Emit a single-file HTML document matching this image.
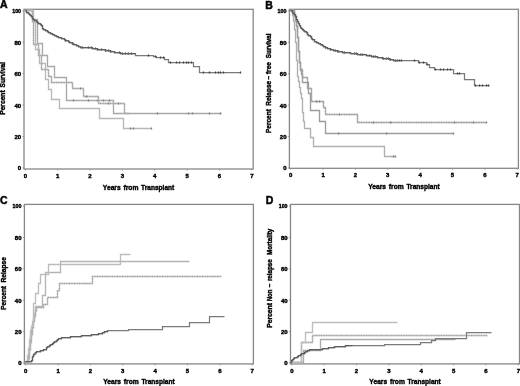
<!DOCTYPE html>
<html><head><meta charset="utf-8"><style>
html,body{margin:0;padding:0;background:#fff;}
body{width:520px;height:386px;overflow:hidden;font-family:"Liberation Sans", sans-serif;}
svg{display:block;will-change:transform;}
</style></head><body>
<svg width="520" height="386" viewBox="0 0 520 386" font-family='"Liberation Sans", sans-serif'><rect width="520" height="386" fill="#fff"/><g>
<rect x="24.00" y="9.30" width="229.20" height="159.70" fill="none" stroke="#888888" stroke-width="1.3"/>
<line x1="22.50" y1="167.90" x2="24.00" y2="167.90" stroke="#888888" stroke-width="0.8"/>
<text x="21.10" y="170.30" font-size="6.00" font-weight="bold" text-anchor="end" fill="#000" stroke="#000" stroke-width="0.40">0</text>
<line x1="22.50" y1="136.50" x2="24.00" y2="136.50" stroke="#888888" stroke-width="0.8"/>
<text x="21.10" y="138.90" font-size="6.00" font-weight="bold" text-anchor="end" fill="#000" stroke="#000" stroke-width="0.40">20</text>
<line x1="22.50" y1="105.10" x2="24.00" y2="105.10" stroke="#888888" stroke-width="0.8"/>
<text x="21.10" y="107.50" font-size="6.00" font-weight="bold" text-anchor="end" fill="#000" stroke="#000" stroke-width="0.40">40</text>
<line x1="22.50" y1="73.70" x2="24.00" y2="73.70" stroke="#888888" stroke-width="0.8"/>
<text x="21.10" y="76.10" font-size="6.00" font-weight="bold" text-anchor="end" fill="#000" stroke="#000" stroke-width="0.40">60</text>
<line x1="22.50" y1="42.30" x2="24.00" y2="42.30" stroke="#888888" stroke-width="0.8"/>
<text x="21.10" y="44.70" font-size="6.00" font-weight="bold" text-anchor="end" fill="#000" stroke="#000" stroke-width="0.40">80</text>
<line x1="22.50" y1="10.90" x2="24.00" y2="10.90" stroke="#888888" stroke-width="0.8"/>
<text x="21.10" y="13.30" font-size="6.00" font-weight="bold" text-anchor="end" fill="#000" stroke="#000" stroke-width="0.40" textLength="8.90" lengthAdjust="spacingAndGlyphs">100</text>
<line x1="25.30" y1="169.00" x2="25.30" y2="170.50" stroke="#888888" stroke-width="0.8"/>
<text x="25.30" y="178.10" font-size="6.00" font-weight="bold" text-anchor="middle" fill="#000" stroke="#000" stroke-width="0.40">0</text>
<line x1="57.66" y1="169.00" x2="57.66" y2="170.50" stroke="#888888" stroke-width="0.8"/>
<text x="57.66" y="178.10" font-size="6.00" font-weight="bold" text-anchor="middle" fill="#000" stroke="#000" stroke-width="0.40">1</text>
<line x1="90.02" y1="169.00" x2="90.02" y2="170.50" stroke="#888888" stroke-width="0.8"/>
<text x="90.02" y="178.10" font-size="6.00" font-weight="bold" text-anchor="middle" fill="#000" stroke="#000" stroke-width="0.40">2</text>
<line x1="122.38" y1="169.00" x2="122.38" y2="170.50" stroke="#888888" stroke-width="0.8"/>
<text x="122.38" y="178.10" font-size="6.00" font-weight="bold" text-anchor="middle" fill="#000" stroke="#000" stroke-width="0.40">3</text>
<line x1="154.74" y1="169.00" x2="154.74" y2="170.50" stroke="#888888" stroke-width="0.8"/>
<text x="154.74" y="178.10" font-size="6.00" font-weight="bold" text-anchor="middle" fill="#000" stroke="#000" stroke-width="0.40">4</text>
<line x1="187.10" y1="169.00" x2="187.10" y2="170.50" stroke="#888888" stroke-width="0.8"/>
<text x="187.10" y="178.10" font-size="6.00" font-weight="bold" text-anchor="middle" fill="#000" stroke="#000" stroke-width="0.40">5</text>
<line x1="219.46" y1="169.00" x2="219.46" y2="170.50" stroke="#888888" stroke-width="0.8"/>
<text x="219.46" y="178.10" font-size="6.00" font-weight="bold" text-anchor="middle" fill="#000" stroke="#000" stroke-width="0.40">6</text>
<line x1="251.82" y1="169.00" x2="251.82" y2="170.50" stroke="#888888" stroke-width="0.8"/>
<text x="251.82" y="178.10" font-size="6.00" font-weight="bold" text-anchor="middle" fill="#000" stroke="#000" stroke-width="0.40">7</text>
<text x="102.85" y="189.50" font-size="7.20" font-weight="bold" text-anchor="start" fill="#000" stroke="#000" stroke-width="0.40" textLength="17.80" lengthAdjust="spacingAndGlyphs">Years</text>
<text x="123.45" y="189.50" font-size="7.20" font-weight="bold" text-anchor="start" fill="#000" stroke="#000" stroke-width="0.40" textLength="15.00" lengthAdjust="spacingAndGlyphs">from</text>
<text x="141.05" y="189.50" font-size="7.20" font-weight="bold" text-anchor="start" fill="#000" stroke="#000" stroke-width="0.40" textLength="33.20" lengthAdjust="spacingAndGlyphs">Transplant</text>
<text x="5.40" y="87.45" font-size="6.60" font-weight="bold" text-anchor="start" fill="#000" stroke="#000" stroke-width="0.40" transform="rotate(-90 5.40 87.45)" textLength="25.50" lengthAdjust="spacingAndGlyphs">Survival</text>
<text x="5.40" y="114.75" font-size="6.60" font-weight="bold" text-anchor="start" fill="#000" stroke="#000" stroke-width="0.40" transform="rotate(-90 5.40 114.75)" textLength="24.40" lengthAdjust="spacingAndGlyphs">Percent</text>
<rect x="289.40" y="9.30" width="229.00" height="159.00" fill="none" stroke="#888888" stroke-width="1.3"/>
<line x1="287.90" y1="167.90" x2="289.40" y2="167.90" stroke="#888888" stroke-width="0.8"/>
<text x="286.50" y="170.30" font-size="6.00" font-weight="bold" text-anchor="end" fill="#000" stroke="#000" stroke-width="0.40">0</text>
<line x1="287.90" y1="136.50" x2="289.40" y2="136.50" stroke="#888888" stroke-width="0.8"/>
<text x="286.50" y="138.90" font-size="6.00" font-weight="bold" text-anchor="end" fill="#000" stroke="#000" stroke-width="0.40">20</text>
<line x1="287.90" y1="105.10" x2="289.40" y2="105.10" stroke="#888888" stroke-width="0.8"/>
<text x="286.50" y="107.50" font-size="6.00" font-weight="bold" text-anchor="end" fill="#000" stroke="#000" stroke-width="0.40">40</text>
<line x1="287.90" y1="73.70" x2="289.40" y2="73.70" stroke="#888888" stroke-width="0.8"/>
<text x="286.50" y="76.10" font-size="6.00" font-weight="bold" text-anchor="end" fill="#000" stroke="#000" stroke-width="0.40">60</text>
<line x1="287.90" y1="42.30" x2="289.40" y2="42.30" stroke="#888888" stroke-width="0.8"/>
<text x="286.50" y="44.70" font-size="6.00" font-weight="bold" text-anchor="end" fill="#000" stroke="#000" stroke-width="0.40">80</text>
<line x1="287.90" y1="10.90" x2="289.40" y2="10.90" stroke="#888888" stroke-width="0.8"/>
<text x="286.50" y="13.30" font-size="6.00" font-weight="bold" text-anchor="end" fill="#000" stroke="#000" stroke-width="0.40" textLength="8.90" lengthAdjust="spacingAndGlyphs">100</text>
<line x1="290.70" y1="168.30" x2="290.70" y2="169.80" stroke="#888888" stroke-width="0.8"/>
<text x="290.70" y="177.40" font-size="6.00" font-weight="bold" text-anchor="middle" fill="#000" stroke="#000" stroke-width="0.40">0</text>
<line x1="323.06" y1="168.30" x2="323.06" y2="169.80" stroke="#888888" stroke-width="0.8"/>
<text x="323.06" y="177.40" font-size="6.00" font-weight="bold" text-anchor="middle" fill="#000" stroke="#000" stroke-width="0.40">1</text>
<line x1="355.42" y1="168.30" x2="355.42" y2="169.80" stroke="#888888" stroke-width="0.8"/>
<text x="355.42" y="177.40" font-size="6.00" font-weight="bold" text-anchor="middle" fill="#000" stroke="#000" stroke-width="0.40">2</text>
<line x1="387.78" y1="168.30" x2="387.78" y2="169.80" stroke="#888888" stroke-width="0.8"/>
<text x="387.78" y="177.40" font-size="6.00" font-weight="bold" text-anchor="middle" fill="#000" stroke="#000" stroke-width="0.40">3</text>
<line x1="420.14" y1="168.30" x2="420.14" y2="169.80" stroke="#888888" stroke-width="0.8"/>
<text x="420.14" y="177.40" font-size="6.00" font-weight="bold" text-anchor="middle" fill="#000" stroke="#000" stroke-width="0.40">4</text>
<line x1="452.50" y1="168.30" x2="452.50" y2="169.80" stroke="#888888" stroke-width="0.8"/>
<text x="452.50" y="177.40" font-size="6.00" font-weight="bold" text-anchor="middle" fill="#000" stroke="#000" stroke-width="0.40">5</text>
<line x1="484.86" y1="168.30" x2="484.86" y2="169.80" stroke="#888888" stroke-width="0.8"/>
<text x="484.86" y="177.40" font-size="6.00" font-weight="bold" text-anchor="middle" fill="#000" stroke="#000" stroke-width="0.40">6</text>
<line x1="517.22" y1="168.30" x2="517.22" y2="169.80" stroke="#888888" stroke-width="0.8"/>
<text x="517.22" y="177.40" font-size="6.00" font-weight="bold" text-anchor="middle" fill="#000" stroke="#000" stroke-width="0.40">7</text>
<text x="368.25" y="188.80" font-size="7.20" font-weight="bold" text-anchor="start" fill="#000" stroke="#000" stroke-width="0.40" textLength="17.80" lengthAdjust="spacingAndGlyphs">Years</text>
<text x="388.85" y="188.80" font-size="7.20" font-weight="bold" text-anchor="start" fill="#000" stroke="#000" stroke-width="0.40" textLength="15.00" lengthAdjust="spacingAndGlyphs">from</text>
<text x="406.45" y="188.80" font-size="7.20" font-weight="bold" text-anchor="start" fill="#000" stroke="#000" stroke-width="0.40" textLength="33.20" lengthAdjust="spacingAndGlyphs">Transplant</text>
<text x="270.80" y="58.15" font-size="6.60" font-weight="bold" text-anchor="start" fill="#000" stroke="#000" stroke-width="0.40" transform="rotate(-90 270.80 58.15)" textLength="24.70" lengthAdjust="spacingAndGlyphs">Survival</text>
<text x="270.80" y="74.15" font-size="6.60" font-weight="bold" text-anchor="start" fill="#000" stroke="#000" stroke-width="0.40" transform="rotate(-90 270.80 74.15)" textLength="12.20" lengthAdjust="spacingAndGlyphs">free</text>
<text x="270.80" y="79.55" font-size="6.60" font-weight="bold" text-anchor="start" fill="#000" stroke="#000" stroke-width="0.40" transform="rotate(-90 270.80 79.55)" textLength="3.90" lengthAdjust="spacingAndGlyphs">−</text>
<text x="270.80" y="105.65" font-size="6.60" font-weight="bold" text-anchor="start" fill="#000" stroke="#000" stroke-width="0.40" transform="rotate(-90 270.80 105.65)" textLength="24.70" lengthAdjust="spacingAndGlyphs">Relapse</text>
<text x="270.80" y="132.95" font-size="6.60" font-weight="bold" text-anchor="start" fill="#000" stroke="#000" stroke-width="0.40" transform="rotate(-90 270.80 132.95)" textLength="23.80" lengthAdjust="spacingAndGlyphs">Percent</text>
<rect x="24.40" y="204.40" width="229.00" height="159.50" fill="none" stroke="#888888" stroke-width="1.3"/>
<line x1="22.90" y1="363.00" x2="24.40" y2="363.00" stroke="#888888" stroke-width="0.8"/>
<text x="21.50" y="365.40" font-size="6.00" font-weight="bold" text-anchor="end" fill="#000" stroke="#000" stroke-width="0.40">0</text>
<line x1="22.90" y1="331.60" x2="24.40" y2="331.60" stroke="#888888" stroke-width="0.8"/>
<text x="21.50" y="334.00" font-size="6.00" font-weight="bold" text-anchor="end" fill="#000" stroke="#000" stroke-width="0.40">20</text>
<line x1="22.90" y1="300.20" x2="24.40" y2="300.20" stroke="#888888" stroke-width="0.8"/>
<text x="21.50" y="302.60" font-size="6.00" font-weight="bold" text-anchor="end" fill="#000" stroke="#000" stroke-width="0.40">40</text>
<line x1="22.90" y1="268.80" x2="24.40" y2="268.80" stroke="#888888" stroke-width="0.8"/>
<text x="21.50" y="271.20" font-size="6.00" font-weight="bold" text-anchor="end" fill="#000" stroke="#000" stroke-width="0.40">60</text>
<line x1="22.90" y1="237.40" x2="24.40" y2="237.40" stroke="#888888" stroke-width="0.8"/>
<text x="21.50" y="239.80" font-size="6.00" font-weight="bold" text-anchor="end" fill="#000" stroke="#000" stroke-width="0.40">80</text>
<line x1="22.90" y1="206.00" x2="24.40" y2="206.00" stroke="#888888" stroke-width="0.8"/>
<text x="21.50" y="208.40" font-size="6.00" font-weight="bold" text-anchor="end" fill="#000" stroke="#000" stroke-width="0.40" textLength="8.90" lengthAdjust="spacingAndGlyphs">100</text>
<line x1="25.70" y1="363.90" x2="25.70" y2="365.40" stroke="#888888" stroke-width="0.8"/>
<text x="25.70" y="373.00" font-size="6.00" font-weight="bold" text-anchor="middle" fill="#000" stroke="#000" stroke-width="0.40">0</text>
<line x1="58.06" y1="363.90" x2="58.06" y2="365.40" stroke="#888888" stroke-width="0.8"/>
<text x="58.06" y="373.00" font-size="6.00" font-weight="bold" text-anchor="middle" fill="#000" stroke="#000" stroke-width="0.40">1</text>
<line x1="90.42" y1="363.90" x2="90.42" y2="365.40" stroke="#888888" stroke-width="0.8"/>
<text x="90.42" y="373.00" font-size="6.00" font-weight="bold" text-anchor="middle" fill="#000" stroke="#000" stroke-width="0.40">2</text>
<line x1="122.78" y1="363.90" x2="122.78" y2="365.40" stroke="#888888" stroke-width="0.8"/>
<text x="122.78" y="373.00" font-size="6.00" font-weight="bold" text-anchor="middle" fill="#000" stroke="#000" stroke-width="0.40">3</text>
<line x1="155.14" y1="363.90" x2="155.14" y2="365.40" stroke="#888888" stroke-width="0.8"/>
<text x="155.14" y="373.00" font-size="6.00" font-weight="bold" text-anchor="middle" fill="#000" stroke="#000" stroke-width="0.40">4</text>
<line x1="187.50" y1="363.90" x2="187.50" y2="365.40" stroke="#888888" stroke-width="0.8"/>
<text x="187.50" y="373.00" font-size="6.00" font-weight="bold" text-anchor="middle" fill="#000" stroke="#000" stroke-width="0.40">5</text>
<line x1="219.86" y1="363.90" x2="219.86" y2="365.40" stroke="#888888" stroke-width="0.8"/>
<text x="219.86" y="373.00" font-size="6.00" font-weight="bold" text-anchor="middle" fill="#000" stroke="#000" stroke-width="0.40">6</text>
<line x1="252.22" y1="363.90" x2="252.22" y2="365.40" stroke="#888888" stroke-width="0.8"/>
<text x="252.22" y="373.00" font-size="6.00" font-weight="bold" text-anchor="middle" fill="#000" stroke="#000" stroke-width="0.40">7</text>
<text x="103.25" y="384.40" font-size="7.20" font-weight="bold" text-anchor="start" fill="#000" stroke="#000" stroke-width="0.40" textLength="17.80" lengthAdjust="spacingAndGlyphs">Years</text>
<text x="123.85" y="384.40" font-size="7.20" font-weight="bold" text-anchor="start" fill="#000" stroke="#000" stroke-width="0.40" textLength="15.00" lengthAdjust="spacingAndGlyphs">from</text>
<text x="141.45" y="384.40" font-size="7.20" font-weight="bold" text-anchor="start" fill="#000" stroke="#000" stroke-width="0.40" textLength="33.20" lengthAdjust="spacingAndGlyphs">Transplant</text>
<text x="5.80" y="282.55" font-size="6.60" font-weight="bold" text-anchor="start" fill="#000" stroke="#000" stroke-width="0.40" transform="rotate(-90 5.80 282.55)" textLength="25.50" lengthAdjust="spacingAndGlyphs">Relapse</text>
<text x="5.80" y="309.75" font-size="6.60" font-weight="bold" text-anchor="start" fill="#000" stroke="#000" stroke-width="0.40" transform="rotate(-90 5.80 309.75)" textLength="23.80" lengthAdjust="spacingAndGlyphs">Percent</text>
<rect x="290.50" y="204.40" width="229.00" height="159.50" fill="none" stroke="#888888" stroke-width="1.3"/>
<line x1="289.00" y1="363.00" x2="290.50" y2="363.00" stroke="#888888" stroke-width="0.8"/>
<text x="287.60" y="365.40" font-size="6.00" font-weight="bold" text-anchor="end" fill="#000" stroke="#000" stroke-width="0.40">0</text>
<line x1="289.00" y1="331.60" x2="290.50" y2="331.60" stroke="#888888" stroke-width="0.8"/>
<text x="287.60" y="334.00" font-size="6.00" font-weight="bold" text-anchor="end" fill="#000" stroke="#000" stroke-width="0.40">20</text>
<line x1="289.00" y1="300.20" x2="290.50" y2="300.20" stroke="#888888" stroke-width="0.8"/>
<text x="287.60" y="302.60" font-size="6.00" font-weight="bold" text-anchor="end" fill="#000" stroke="#000" stroke-width="0.40">40</text>
<line x1="289.00" y1="268.80" x2="290.50" y2="268.80" stroke="#888888" stroke-width="0.8"/>
<text x="287.60" y="271.20" font-size="6.00" font-weight="bold" text-anchor="end" fill="#000" stroke="#000" stroke-width="0.40">60</text>
<line x1="289.00" y1="237.40" x2="290.50" y2="237.40" stroke="#888888" stroke-width="0.8"/>
<text x="287.60" y="239.80" font-size="6.00" font-weight="bold" text-anchor="end" fill="#000" stroke="#000" stroke-width="0.40">80</text>
<line x1="289.00" y1="206.00" x2="290.50" y2="206.00" stroke="#888888" stroke-width="0.8"/>
<text x="287.60" y="208.40" font-size="6.00" font-weight="bold" text-anchor="end" fill="#000" stroke="#000" stroke-width="0.40" textLength="8.90" lengthAdjust="spacingAndGlyphs">100</text>
<line x1="291.80" y1="363.90" x2="291.80" y2="365.40" stroke="#888888" stroke-width="0.8"/>
<text x="291.80" y="373.00" font-size="6.00" font-weight="bold" text-anchor="middle" fill="#000" stroke="#000" stroke-width="0.40">0</text>
<line x1="324.16" y1="363.90" x2="324.16" y2="365.40" stroke="#888888" stroke-width="0.8"/>
<text x="324.16" y="373.00" font-size="6.00" font-weight="bold" text-anchor="middle" fill="#000" stroke="#000" stroke-width="0.40">1</text>
<line x1="356.52" y1="363.90" x2="356.52" y2="365.40" stroke="#888888" stroke-width="0.8"/>
<text x="356.52" y="373.00" font-size="6.00" font-weight="bold" text-anchor="middle" fill="#000" stroke="#000" stroke-width="0.40">2</text>
<line x1="388.88" y1="363.90" x2="388.88" y2="365.40" stroke="#888888" stroke-width="0.8"/>
<text x="388.88" y="373.00" font-size="6.00" font-weight="bold" text-anchor="middle" fill="#000" stroke="#000" stroke-width="0.40">3</text>
<line x1="421.24" y1="363.90" x2="421.24" y2="365.40" stroke="#888888" stroke-width="0.8"/>
<text x="421.24" y="373.00" font-size="6.00" font-weight="bold" text-anchor="middle" fill="#000" stroke="#000" stroke-width="0.40">4</text>
<line x1="453.60" y1="363.90" x2="453.60" y2="365.40" stroke="#888888" stroke-width="0.8"/>
<text x="453.60" y="373.00" font-size="6.00" font-weight="bold" text-anchor="middle" fill="#000" stroke="#000" stroke-width="0.40">5</text>
<line x1="485.96" y1="363.90" x2="485.96" y2="365.40" stroke="#888888" stroke-width="0.8"/>
<text x="485.96" y="373.00" font-size="6.00" font-weight="bold" text-anchor="middle" fill="#000" stroke="#000" stroke-width="0.40">6</text>
<line x1="518.32" y1="363.90" x2="518.32" y2="365.40" stroke="#888888" stroke-width="0.8"/>
<text x="518.32" y="373.00" font-size="6.00" font-weight="bold" text-anchor="middle" fill="#000" stroke="#000" stroke-width="0.40">7</text>
<text x="369.35" y="384.40" font-size="7.20" font-weight="bold" text-anchor="start" fill="#000" stroke="#000" stroke-width="0.40" textLength="17.80" lengthAdjust="spacingAndGlyphs">Years</text>
<text x="389.95" y="384.40" font-size="7.20" font-weight="bold" text-anchor="start" fill="#000" stroke="#000" stroke-width="0.40" textLength="15.00" lengthAdjust="spacingAndGlyphs">from</text>
<text x="407.55" y="384.40" font-size="7.20" font-weight="bold" text-anchor="start" fill="#000" stroke="#000" stroke-width="0.40" textLength="33.20" lengthAdjust="spacingAndGlyphs">Transplant</text>
<text x="271.90" y="254.95" font-size="6.60" font-weight="bold" text-anchor="start" fill="#000" stroke="#000" stroke-width="0.40" transform="rotate(-90 271.90 254.95)" textLength="26.20" lengthAdjust="spacingAndGlyphs">Mortality</text>
<text x="271.90" y="281.05" font-size="6.60" font-weight="bold" text-anchor="start" fill="#000" stroke="#000" stroke-width="0.40" transform="rotate(-90 271.90 281.05)" textLength="21.80" lengthAdjust="spacingAndGlyphs">relapse</text>
<text x="271.90" y="287.15" font-size="6.60" font-weight="bold" text-anchor="start" fill="#000" stroke="#000" stroke-width="0.40" transform="rotate(-90 271.90 287.15)" textLength="3.90" lengthAdjust="spacingAndGlyphs">−</text>
<text x="271.90" y="301.25" font-size="6.60" font-weight="bold" text-anchor="start" fill="#000" stroke="#000" stroke-width="0.40" transform="rotate(-90 271.90 301.25)" textLength="11.80" lengthAdjust="spacingAndGlyphs">Non</text>
<text x="271.90" y="327.75" font-size="6.60" font-weight="bold" text-anchor="start" fill="#000" stroke="#000" stroke-width="0.40" transform="rotate(-90 271.90 327.75)" textLength="24.70" lengthAdjust="spacingAndGlyphs">Percent</text>
<text x="0.00" y="8.00" font-size="10.50" font-weight="bold" text-anchor="start" fill="#000" stroke="#000" stroke-width="0.45">A</text>
<text x="265.30" y="8.60" font-size="10.50" font-weight="bold" text-anchor="start" fill="#000" stroke="#000" stroke-width="0.45">B</text>
<text x="0.00" y="204.20" font-size="10.50" font-weight="bold" text-anchor="start" fill="#000" stroke="#000" stroke-width="0.45">C</text>
<text x="265.80" y="203.50" font-size="10.50" font-weight="bold" text-anchor="start" fill="#000" stroke="#000" stroke-width="0.45">D</text>
<path d="M25.5 10.5 H32.5 V19.5 H37.5 V43.5 H42.5 V55.5 H47.5 V66.5 H54.5 V77.5 H66.5 V100.5 H113.5 V113.5 H221.5" fill="none" stroke="#a8a8a8" stroke-width="1.35"/>
<line x1="73.5" y1="99.50" x2="73.5" y2="101.50" stroke="#808080" stroke-width="1.30"/>
<line x1="88.5" y1="99.50" x2="88.5" y2="101.50" stroke="#808080" stroke-width="1.30"/>
<line x1="97.5" y1="99.50" x2="97.5" y2="101.50" stroke="#808080" stroke-width="1.30"/>
<line x1="103.5" y1="99.50" x2="103.5" y2="101.50" stroke="#808080" stroke-width="1.30"/>
<line x1="109.5" y1="99.50" x2="109.5" y2="101.50" stroke="#808080" stroke-width="1.30"/>
<line x1="157.5" y1="112.50" x2="157.5" y2="114.50" stroke="#808080" stroke-width="1.30"/>
<line x1="188.5" y1="112.50" x2="188.5" y2="114.50" stroke="#808080" stroke-width="1.30"/>
<line x1="192.5" y1="112.50" x2="192.5" y2="114.50" stroke="#808080" stroke-width="1.30"/>
<line x1="209.5" y1="112.50" x2="209.5" y2="114.50" stroke="#808080" stroke-width="1.30"/>
<line x1="220.5" y1="112.50" x2="220.5" y2="114.50" stroke="#808080" stroke-width="1.30"/>
<path d="M25.5 10.5 H32.5 V21.5 H33.5 V44.5 H38.5 V55.5 H41.5 V69.5 H48.5 V76.5 H51.5 V82.5 H72.5 V88.5 H83.5 V96.5 H98.5 V103.5 H124.5 V113.5 H128.5" fill="none" stroke="#b8b8b8" stroke-width="1.35"/>
<path d="M25.5 10.5 H32.5 V21.5 H33.5 V44.5 H38.5 V55.5 H41.5 V69.5 H48.5 V76.5 H51.5 V82.5 H72.5 V88.5 H83.5 V96.5 H98.5 V103.5 H124.5 V113.5 H128.5" fill="none" stroke="#a0a0a0" stroke-width="1.35" stroke-dasharray="1 1.5"/>
<line x1="80.5" y1="87.50" x2="80.5" y2="89.50" stroke="#808080" stroke-width="1.30"/>
<line x1="86.5" y1="95.50" x2="86.5" y2="97.50" stroke="#808080" stroke-width="1.30"/>
<line x1="108.5" y1="102.50" x2="108.5" y2="104.50" stroke="#808080" stroke-width="1.30"/>
<line x1="118.5" y1="102.50" x2="118.5" y2="104.50" stroke="#808080" stroke-width="1.30"/>
<path d="M25.5 10.5 H33.5 V22.5 H35.5 V49.5 H39.5 V63.5 H45.5 V79.5 H48.5 V89.5 H51.5 V99.5 H59.5 V108.5 H99.5 V118.5 H123.5 V128.5 H151.5" fill="none" stroke="#b8b8b8" stroke-width="1.35"/>
<line x1="130.5" y1="127.50" x2="130.5" y2="129.50" stroke="#808080" stroke-width="1.30"/>
<line x1="133.5" y1="127.50" x2="133.5" y2="129.50" stroke="#808080" stroke-width="1.30"/>
<line x1="151.5" y1="127.50" x2="151.5" y2="129.50" stroke="#808080" stroke-width="1.30"/>
<path d="M25.5 10.5 H26.5 V12.5 H28.5 V13.5 H29.5 V14.5 H30.5 V15.5 H31.5 V16.5 H32.5 V18.5 H33.5 V19.5 H34.5 V20.5 H36.5 V21.5 H37.5 V22.5 H38.5 V23.5 H40.5 V24.5 H41.5 V24.5 H41.5 V25.5 H42.5 V27.5 H42.5 V28.5 H43.5 V29.5 H44.5 V29.5 H45.5 V30.5 H47.5 V31.5 H48.5 V32.5 H49.5 V32.5 H50.5 V33.5 H52.5 V34.5 H53.5 V34.5 H54.5 V35.5 H56.5 V36.5 H57.5 V36.5 H58.5 V37.5 H60.5 V37.5 H61.5 V38.5 H63.5 V38.5 H64.5 V39.5 H65.5 V40.5 H67.5 V40.5 H68.5 V41.5 H69.5 V42.5 H71.5 V42.5 H72.5 V43.5 H73.5 V44.5 H74.5 V44.5 H76.5 V45.5 H77.5 V45.5 H78.5 V46.5 H79.5 V46.5 H80.5 V47.5 H81.5 V47.5 H82.5 V47.5 H84.5 V47.5 H85.5 V47.5 H86.5 V47.5 H87.5 V47.5 H88.5 V47.5 H90.5 V47.5 H91.5 V47.5 H92.5 V48.5 H93.5 V48.5 H94.5 V48.5 H96.5 V48.5 H97.5 V49.5 H98.5 V49.5 H100.5 V49.5 H101.5 V49.5 H102.5 V49.5 H103.5 V49.5 H105.5 V50.5 H106.5 V50.5 H107.5 V50.5 H108.5 V50.5 H110.5 V51.5 H111.5 V51.5 H112.5 V51.5 H113.5 V51.5 H114.5 V52.5 H116.5 V52.5 H117.5 V52.5 H118.5 V52.5 H120.5 V53.5 H121.5 V53.5 H122.5 V53.5 H123.5 V53.5 H125.5 V53.5 H126.5 V53.5 H127.5 V53.5 H128.5 V53.5 H130.5 V53.5 H131.5 V53.5 H132.5 V53.5 H133.5 V53.5 H135.5 V53.5 V55.5 H153.5 V56.5 H156.5 V57.5 H164.5 V59.5 H168.5 V62.5 H193.5 V66.5 H199.5 V72.5 H240.5" fill="none" stroke="#7a7a7a" stroke-width="1.25"/>
<line x1="65.5" y1="39.50" x2="65.5" y2="41.50" stroke="#404040" stroke-width="1.30"/>
<line x1="72.5" y1="42.50" x2="72.5" y2="44.50" stroke="#404040" stroke-width="1.30"/>
<line x1="82.5" y1="46.50" x2="82.5" y2="48.50" stroke="#404040" stroke-width="1.30"/>
<line x1="88.5" y1="46.50" x2="88.5" y2="48.50" stroke="#404040" stroke-width="1.30"/>
<line x1="91.5" y1="46.50" x2="91.5" y2="48.50" stroke="#404040" stroke-width="1.30"/>
<line x1="95.5" y1="47.50" x2="95.5" y2="49.50" stroke="#404040" stroke-width="1.30"/>
<line x1="97.5" y1="48.50" x2="97.5" y2="50.50" stroke="#404040" stroke-width="1.30"/>
<line x1="101.5" y1="48.50" x2="101.5" y2="50.50" stroke="#404040" stroke-width="1.30"/>
<line x1="105.5" y1="49.50" x2="105.5" y2="51.50" stroke="#404040" stroke-width="1.30"/>
<line x1="108.5" y1="49.50" x2="108.5" y2="51.50" stroke="#404040" stroke-width="1.30"/>
<line x1="110.5" y1="50.50" x2="110.5" y2="52.50" stroke="#404040" stroke-width="1.30"/>
<line x1="119.5" y1="51.50" x2="119.5" y2="53.50" stroke="#404040" stroke-width="1.30"/>
<line x1="122.5" y1="52.50" x2="122.5" y2="54.50" stroke="#404040" stroke-width="1.30"/>
<line x1="125.5" y1="52.50" x2="125.5" y2="54.50" stroke="#404040" stroke-width="1.30"/>
<line x1="128.5" y1="52.50" x2="128.5" y2="54.50" stroke="#404040" stroke-width="1.30"/>
<line x1="131.5" y1="52.50" x2="131.5" y2="54.50" stroke="#404040" stroke-width="1.30"/>
<line x1="148.5" y1="54.50" x2="148.5" y2="56.50" stroke="#404040" stroke-width="1.30"/>
<line x1="155.5" y1="55.50" x2="155.5" y2="57.50" stroke="#404040" stroke-width="1.30"/>
<line x1="160.5" y1="56.50" x2="160.5" y2="58.50" stroke="#404040" stroke-width="1.30"/>
<line x1="163.5" y1="56.50" x2="163.5" y2="58.50" stroke="#404040" stroke-width="1.30"/>
<line x1="170.5" y1="61.50" x2="170.5" y2="63.50" stroke="#404040" stroke-width="1.30"/>
<line x1="176.5" y1="61.50" x2="176.5" y2="63.50" stroke="#404040" stroke-width="1.30"/>
<line x1="179.5" y1="61.50" x2="179.5" y2="63.50" stroke="#404040" stroke-width="1.30"/>
<line x1="183.5" y1="61.50" x2="183.5" y2="63.50" stroke="#404040" stroke-width="1.30"/>
<line x1="186.5" y1="61.50" x2="186.5" y2="63.50" stroke="#404040" stroke-width="1.30"/>
<line x1="188.5" y1="61.50" x2="188.5" y2="63.50" stroke="#404040" stroke-width="1.30"/>
<line x1="191.5" y1="61.50" x2="191.5" y2="63.50" stroke="#404040" stroke-width="1.30"/>
<line x1="203.5" y1="71.50" x2="203.5" y2="73.50" stroke="#404040" stroke-width="1.30"/>
<line x1="209.5" y1="71.50" x2="209.5" y2="73.50" stroke="#404040" stroke-width="1.30"/>
<line x1="215.5" y1="71.50" x2="215.5" y2="73.50" stroke="#404040" stroke-width="1.30"/>
<line x1="218.5" y1="71.50" x2="218.5" y2="73.50" stroke="#404040" stroke-width="1.30"/>
<line x1="220.5" y1="71.50" x2="220.5" y2="73.50" stroke="#404040" stroke-width="1.30"/>
<line x1="223.5" y1="71.50" x2="223.5" y2="73.50" stroke="#404040" stroke-width="1.30"/>
<line x1="240.5" y1="71.50" x2="240.5" y2="73.50" stroke="#404040" stroke-width="1.30"/>
<path d="M25.5 10.5 H26.5 V12.5 H28.5 V13.5 H29.5 V14.5 H30.5 V15.5 H31.5 V16.5 H32.5 V18.5 H33.5 V19.5 H34.5 V20.5 H36.5 V21.5 H37.5 V22.5 H38.5 V23.5 H40.5 V24.5 H41.5 V24.5 H41.5 V25.5 H42.5 V27.5 H42.5 V28.5 H43.5 V29.5 H44.5 V29.5 H45.5 V30.5 H47.5 V31.5 H48.5 V32.5 H49.5 V32.5 H50.5 V33.5 H52.5 V34.5 H53.5 V34.5 H54.5 V35.5 H56.5 V36.5 H57.5 V36.5 H58.5 V37.5 H60.5 V37.5 H61.5 V38.5 H63.5 V38.5 H64.5 V39.5 H65.5 V40.5 H67.5 V40.5 H68.5 V41.5 H69.5 V42.5 H71.5 V42.5 H72.5 V43.5 H73.5 V44.5 H74.5 V44.5 H76.5 V45.5 H77.5 V45.5 H78.5 V46.5 H79.5 V46.5 H80.5 V47.5 H81.5 V47.5 H82.5 V47.5 H84.5 V47.5 H85.5 V47.5 H86.5 V47.5 H87.5 V47.5 H88.5 V47.5 H90.5 V47.5 H91.5 V47.5 H92.5 V48.5 H93.5 V48.5 H94.5 V48.5 H96.5 V48.5 H97.5 V49.5 H98.5 V49.5 H100.5 V49.5 H101.5 V49.5 H102.5 V49.5 H103.5 V49.5 H105.5 V50.5 H106.5 V50.5 H107.5 V50.5 H108.5 V50.5 H110.5 V51.5 H111.5 V51.5 H112.5 V51.5 H113.5 V51.5 H114.5 V52.5 H116.5 V52.5 H117.5 V52.5 H118.5 V52.5 H120.5 V53.5 H121.5 V53.5 H122.5 V53.5 H123.5 V53.5 H125.5 V53.5 H126.5 V53.5 H127.5 V53.5 H128.5 V53.5 H130.5 V53.5 H131.5 V53.5 H132.5 V53.5 H133.5 V53.5 H135.5 V53.5" fill="none" stroke="#5e5e5e" stroke-width="1.25"/>
<path d="M290.5 10.5 H292.5 V10.5 H294.5 V11.5 H294.5 V12.5 H294.5 V14.5 H294.5 V15.5 H295.5 V17.5 H295.5 V18.5 H295.5 V20.5 H296.5 V21.5 H296.5 V23.5 H296.5 V25.5 H296.5 V26.5 H297.5 V28.5 H297.5 V29.5 H297.5 V31.5 H297.5 V32.5 H297.5 V34.5 H297.5 V35.5 H297.5 V37.5 H298.5 V39.5 H298.5 V40.5 H298.5 V42.5 H298.5 V43.5 H298.5 V45.5 H298.5 V46.5 H298.5 V48.5 H298.5 V50.5 H298.5 V51.5 H299.5 V53.5 H299.5 V54.5 H299.5 V56.5 H299.5 V57.5 H299.5 V59.5 H299.5 V60.5 H299.5 V62.5 H300.5 V64.5 H300.5 V65.5 H300.5 V67.5 V69.5 H302.5 V77.5 H307.5 V88.5 H311.5 V101.5 H323.5 V107.5 H325.5 V114.5 H357.5 V122.5 H486.5" fill="none" stroke="#b2b2b2" stroke-width="1.35"/>
<path d="M290.5 10.5 H292.5 V10.5 H294.5 V11.5 H294.5 V12.5 H294.5 V14.5 H294.5 V15.5 H295.5 V17.5 H295.5 V18.5 H295.5 V20.5 H296.5 V21.5 H296.5 V23.5 H296.5 V25.5 H296.5 V26.5 H297.5 V28.5 H297.5 V29.5 H297.5 V31.5 H297.5 V32.5 H297.5 V34.5 H297.5 V35.5 H297.5 V37.5 H298.5 V39.5 H298.5 V40.5 H298.5 V42.5 H298.5 V43.5 H298.5 V45.5 H298.5 V46.5 H298.5 V48.5 H298.5 V50.5 H298.5 V51.5 H299.5 V53.5 H299.5 V54.5 H299.5 V56.5 H299.5 V57.5 H299.5 V59.5 H299.5 V60.5 H299.5 V62.5 H300.5 V64.5 H300.5 V65.5 H300.5 V67.5 V69.5 H302.5 V77.5 H307.5 V88.5 H311.5 V101.5 H323.5 V107.5 H325.5 V114.5 H357.5 V122.5 H486.5" fill="none" stroke="#9a9a9a" stroke-width="1.35" stroke-dasharray="1 1.5"/>
<line x1="316.5" y1="100.50" x2="316.5" y2="102.50" stroke="#808080" stroke-width="1.30"/>
<line x1="319.5" y1="100.50" x2="319.5" y2="102.50" stroke="#808080" stroke-width="1.30"/>
<line x1="339.5" y1="113.50" x2="339.5" y2="115.50" stroke="#808080" stroke-width="1.30"/>
<line x1="373.5" y1="121.50" x2="373.5" y2="123.50" stroke="#808080" stroke-width="1.30"/>
<line x1="390.5" y1="121.50" x2="390.5" y2="123.50" stroke="#808080" stroke-width="1.30"/>
<line x1="454.5" y1="121.50" x2="454.5" y2="123.50" stroke="#808080" stroke-width="1.30"/>
<line x1="473.5" y1="121.50" x2="473.5" y2="123.50" stroke="#808080" stroke-width="1.30"/>
<line x1="486.5" y1="121.50" x2="486.5" y2="123.50" stroke="#808080" stroke-width="1.30"/>
<path d="M290.5 10.5 H292.5 V10.5 H294.5 V11.5 H294.5 V12.5 H294.5 V14.5 H294.5 V15.5 H295.5 V17.5 H295.5 V18.5 H295.5 V20.5 H296.5 V21.5 H296.5 V23.5 H296.5 V25.5 H296.5 V26.5 H297.5 V28.5 H297.5 V29.5 H297.5 V31.5 H297.5 V32.5 H297.5 V34.5 H297.5 V35.5 H297.5 V37.5 H298.5 V39.5 H298.5 V40.5 H298.5 V42.5 H298.5 V43.5 H298.5 V45.5 H298.5 V46.5 H298.5 V48.5 H298.5 V50.5 H298.5 V51.5 H299.5 V53.5 H299.5 V54.5 H299.5 V56.5 H299.5 V57.5 H299.5 V59.5 H299.5 V60.5 H299.5 V62.5 H300.5 V64.5 H300.5 V65.5 H300.5 V67.5 H300.5 V68.5 H300.5 V70.5 H301.5 V71.5 H301.5 V73.5 H301.5 V74.5 H302.5 V76.5 H302.5 V77.5 H302.5 V79.5 H302.5 V80.5 H302.5 V82.5 H308.5 V93.5 H310.5 V110.5 H319.5 V121.5 H325.5 V133.5 H453.5" fill="none" stroke="#9c9c9c" stroke-width="1.35"/>
<line x1="338.5" y1="132.50" x2="338.5" y2="134.50" stroke="#808080" stroke-width="1.30"/>
<line x1="386.5" y1="132.50" x2="386.5" y2="134.50" stroke="#808080" stroke-width="1.30"/>
<line x1="453.5" y1="132.50" x2="453.5" y2="134.50" stroke="#808080" stroke-width="1.30"/>
<path d="M290.5 10.5 H292.5 V11.5 H292.5 V12.5 H292.5 V14.5 H292.5 V15.5 H293.5 V17.5 H293.5 V18.5 H293.5 V20.5 H293.5 V21.5 H294.5 V23.5 H294.5 V25.5 H294.5 V26.5 H294.5 V28.5 H294.5 V29.5 H295.5 V31.5 H295.5 V32.5 H295.5 V34.5 H295.5 V35.5 H295.5 V37.5 H295.5 V39.5 H295.5 V40.5 H295.5 V42.5 H296.5 V43.5 H296.5 V45.5 H296.5 V46.5 H296.5 V48.5 H296.5 V50.5 H296.5 V51.5 H296.5 V53.5 H296.5 V54.5 H296.5 V56.5 H296.5 V57.5 H296.5 V59.5 H296.5 V60.5 H297.5 V62.5 H297.5 V64.5 H297.5 V65.5 H297.5 V67.5 H297.5 V68.5 H297.5 V70.5 H297.5 V71.5 H297.5 V73.5 H297.5 V74.5 H297.5 V76.5 H298.5 V78.5 H298.5 V79.5 H298.5 V81.5 H299.5 V82.5 H299.5 V84.5 H299.5 V86.5 H299.5 V87.5 H300.5 V89.5 H300.5 V90.5 H300.5 V92.5 H300.5 V93.5 H301.5 V95.5 H301.5 V96.5 H301.5 V98.5 H302.5 V100.5 H302.5 V101.5 H302.5 V103.5 H302.5 V104.5 H302.5 V106.5 H302.5 V107.5 H302.5 V109.5 H302.5 V110.5 H302.5 V112.5 H303.5 V114.5 H303.5 V115.5 H303.5 V117.5 H303.5 V118.5 H303.5 V120.5 H303.5 V121.5 H304.5 V123.5 H304.5 V124.5 H304.5 V126.5 H304.5 V128.5 H310.5 V137.5 H313.5 V146.5 H384.5 V156.5 H395.5" fill="none" stroke="#b0b0b0" stroke-width="1.35"/>
<line x1="393.5" y1="155.50" x2="393.5" y2="157.50" stroke="#808080" stroke-width="1.30"/>
<line x1="395.5" y1="155.50" x2="395.5" y2="157.50" stroke="#808080" stroke-width="1.30"/>
<path d="M290.5 10.5 H292.5 V10.5 H292.5 V12.5 H293.5 V13.5 H294.5 V14.5 H295.5 V16.5 H296.5 V17.5 H296.5 V18.5 H296.5 V19.5 H297.5 V20.5 H297.5 V21.5 H298.5 V22.5 H298.5 V23.5 H299.5 V25.5 H300.5 V26.5 H300.5 V27.5 H301.5 V28.5 H302.5 V29.5 H303.5 V30.5 H304.5 V31.5 H306.5 V32.5 H307.5 V34.5 H308.5 V35.5 H310.5 V36.5 H311.5 V38.5 H312.5 V39.5 H314.5 V41.5 H315.5 V41.5 H316.5 V42.5 H317.5 V42.5 H318.5 V43.5 H319.5 V43.5 H320.5 V44.5 H322.5 V45.5 H323.5 V46.5 H325.5 V47.5 H326.5 V47.5 H327.5 V48.5 H329.5 V48.5 H330.5 V49.5 H331.5 V49.5 H332.5 V49.5 H333.5 V50.5 H334.5 V50.5 H335.5 V50.5 H337.5 V51.5 H338.5 V51.5 H339.5 V51.5 H340.5 V51.5 H341.5 V51.5 H342.5 V52.5 H343.5 V52.5 H344.5 V52.5 H346.5 V52.5 H347.5 V52.5 H348.5 V52.5 H349.5 V52.5 H350.5 V53.5 H351.5 V53.5 H352.5 V53.5 H354.5 V53.5 H355.5 V53.5 H356.5 V53.5 H357.5 V54.5 H358.5 V54.5 H360.5 V54.5 H361.5 V54.5 H362.5 V54.5 H363.5 V54.5 H364.5 V54.5 H365.5 V54.5 H366.5 V55.5 H367.5 V55.5 H368.5 V55.5 H370.5 V55.5 H371.5 V56.5 H372.5 V56.5 H373.5 V56.5 H374.5 V56.5 H375.5 V56.5 H377.5 V57.5 H378.5 V57.5 H379.5 V57.5 H380.5 V57.5 H381.5 V57.5 H382.5 V58.5 H384.5 V58.5 H385.5 V58.5 H386.5 V58.5 H387.5 V58.5 H388.5 V58.5 H389.5 V59.5 H391.5 V59.5 H392.5 V59.5 H393.5 V60.5 H395.5 V60.5 H396.5 V60.5 H397.5 V60.5 H418.5 V62.5 H426.5 V64.5 H429.5 V67.5 H434.5 V69.5 H453.5 V73.5 H464.5 V79.5 H474.5 V85.5 H489.5" fill="none" stroke="#7a7a7a" stroke-width="1.25"/>
<line x1="325.5" y1="46.50" x2="325.5" y2="48.50" stroke="#404040" stroke-width="1.30"/>
<line x1="330.5" y1="48.50" x2="330.5" y2="50.50" stroke="#404040" stroke-width="1.30"/>
<line x1="335.5" y1="49.50" x2="335.5" y2="51.50" stroke="#404040" stroke-width="1.30"/>
<line x1="338.5" y1="50.50" x2="338.5" y2="52.50" stroke="#404040" stroke-width="1.30"/>
<line x1="344.5" y1="51.50" x2="344.5" y2="53.50" stroke="#404040" stroke-width="1.30"/>
<line x1="354.5" y1="52.50" x2="354.5" y2="54.50" stroke="#404040" stroke-width="1.30"/>
<line x1="356.5" y1="52.50" x2="356.5" y2="54.50" stroke="#404040" stroke-width="1.30"/>
<line x1="360.5" y1="53.50" x2="360.5" y2="55.50" stroke="#404040" stroke-width="1.30"/>
<line x1="362.5" y1="53.50" x2="362.5" y2="55.50" stroke="#404040" stroke-width="1.30"/>
<line x1="369.5" y1="54.50" x2="369.5" y2="56.50" stroke="#404040" stroke-width="1.30"/>
<line x1="373.5" y1="55.50" x2="373.5" y2="57.50" stroke="#404040" stroke-width="1.30"/>
<line x1="375.5" y1="55.50" x2="375.5" y2="57.50" stroke="#404040" stroke-width="1.30"/>
<line x1="383.5" y1="57.50" x2="383.5" y2="59.50" stroke="#404040" stroke-width="1.30"/>
<line x1="386.5" y1="57.50" x2="386.5" y2="59.50" stroke="#404040" stroke-width="1.30"/>
<line x1="388.5" y1="57.50" x2="388.5" y2="59.50" stroke="#404040" stroke-width="1.30"/>
<line x1="390.5" y1="58.50" x2="390.5" y2="60.50" stroke="#404040" stroke-width="1.30"/>
<line x1="395.5" y1="59.50" x2="395.5" y2="61.50" stroke="#404040" stroke-width="1.30"/>
<line x1="397.5" y1="59.50" x2="397.5" y2="61.50" stroke="#404040" stroke-width="1.30"/>
<line x1="399.5" y1="59.50" x2="399.5" y2="61.50" stroke="#404040" stroke-width="1.30"/>
<line x1="401.5" y1="59.50" x2="401.5" y2="61.50" stroke="#404040" stroke-width="1.30"/>
<line x1="414.5" y1="59.50" x2="414.5" y2="61.50" stroke="#404040" stroke-width="1.30"/>
<line x1="419.5" y1="61.50" x2="419.5" y2="63.50" stroke="#404040" stroke-width="1.30"/>
<line x1="423.5" y1="61.50" x2="423.5" y2="63.50" stroke="#404040" stroke-width="1.30"/>
<line x1="427.5" y1="63.50" x2="427.5" y2="65.50" stroke="#404040" stroke-width="1.30"/>
<line x1="435.5" y1="68.50" x2="435.5" y2="70.50" stroke="#404040" stroke-width="1.30"/>
<line x1="440.5" y1="68.50" x2="440.5" y2="70.50" stroke="#404040" stroke-width="1.30"/>
<line x1="443.5" y1="68.50" x2="443.5" y2="70.50" stroke="#404040" stroke-width="1.30"/>
<line x1="447.5" y1="68.50" x2="447.5" y2="70.50" stroke="#404040" stroke-width="1.30"/>
<line x1="450.5" y1="68.50" x2="450.5" y2="70.50" stroke="#404040" stroke-width="1.30"/>
<line x1="457.5" y1="72.50" x2="457.5" y2="74.50" stroke="#404040" stroke-width="1.30"/>
<line x1="459.5" y1="72.50" x2="459.5" y2="74.50" stroke="#404040" stroke-width="1.30"/>
<line x1="475.5" y1="84.50" x2="475.5" y2="86.50" stroke="#404040" stroke-width="1.30"/>
<line x1="479.5" y1="84.50" x2="479.5" y2="86.50" stroke="#404040" stroke-width="1.30"/>
<line x1="482.5" y1="84.50" x2="482.5" y2="86.50" stroke="#404040" stroke-width="1.30"/>
<line x1="486.5" y1="84.50" x2="486.5" y2="86.50" stroke="#404040" stroke-width="1.30"/>
<line x1="488.5" y1="84.50" x2="488.5" y2="86.50" stroke="#404040" stroke-width="1.30"/>
<path d="M290.5 10.5 H292.5 V10.5 H292.5 V12.5 H293.5 V13.5 H294.5 V14.5 H295.5 V16.5 H296.5 V17.5 H296.5 V18.5 H296.5 V19.5 H297.5 V20.5 H297.5 V21.5 H298.5 V22.5 H298.5 V23.5 H299.5 V25.5 H300.5 V26.5 H300.5 V27.5 H301.5 V28.5 H302.5 V29.5 H303.5 V30.5 H304.5 V31.5 H306.5 V32.5 H307.5 V34.5 H308.5 V35.5 H310.5 V36.5 H311.5 V38.5 H312.5 V39.5 H314.5 V41.5 H315.5 V41.5 H316.5 V42.5 H317.5 V42.5 H318.5 V43.5 H319.5 V43.5 H320.5 V44.5 H322.5 V45.5 H323.5 V46.5 H325.5 V47.5 H326.5 V47.5 H327.5 V48.5 H329.5 V48.5 H330.5 V49.5 H331.5 V49.5 H332.5 V49.5 H333.5 V50.5 H334.5 V50.5 H335.5 V50.5 H337.5 V51.5 H338.5 V51.5 H339.5 V51.5 H340.5 V51.5 H341.5 V51.5 H342.5 V52.5 H343.5 V52.5 H344.5 V52.5 H346.5 V52.5 H347.5 V52.5 H348.5 V52.5 H349.5 V52.5 H350.5 V53.5 H351.5 V53.5 H352.5 V53.5 H354.5 V53.5 H355.5 V53.5 H356.5 V53.5 H357.5 V54.5 H358.5 V54.5 H360.5 V54.5 H361.5 V54.5 H362.5 V54.5 H363.5 V54.5 H364.5 V54.5 H365.5 V54.5 H366.5 V55.5 H367.5 V55.5 H368.5 V55.5 H370.5 V55.5 H371.5 V56.5 H372.5 V56.5 H373.5 V56.5 H374.5 V56.5 H375.5 V56.5 H377.5 V57.5 H378.5 V57.5 H379.5 V57.5 H380.5 V57.5 H381.5 V57.5 H382.5 V58.5 H384.5 V58.5 H385.5 V58.5 H386.5 V58.5 H387.5 V58.5 H388.5 V58.5 H389.5 V59.5 H391.5 V59.5 H392.5 V59.5 H393.5 V60.5 H395.5 V60.5 H396.5 V60.5 H397.5 V60.5" fill="none" stroke="#5e5e5e" stroke-width="1.25"/>
<path d="M25.5 362.5 H26.5 V361.5 H28.5 V361.5 H28.5 V360.5 H28.5 V358.5 H29.5 V357.5 H29.5 V355.5 H29.5 V354.5 H29.5 V352.5 H29.5 V351.5 H29.5 V349.5 H30.5 V348.5 H30.5 V346.5 H30.5 V345.5 H30.5 V343.5 H30.5 V342.5 H31.5 V340.5 H31.5 V339.5 H31.5 V337.5 H31.5 V336.5 H31.5 V334.5 H32.5 V333.5 H32.5 V331.5 H32.5 V330.5 H32.5 V328.5 H32.5 V327.5 H33.5 V325.5 H33.5 V324.5 H33.5 V322.5 H33.5 V321.5 H34.5 V319.5 H34.5 V318.5 H34.5 V316.5 H35.5 V314.5 H35.5 V313.5 H35.5 V311.5 H35.5 V310.5 H36.5 V308.5 H36.5 V307.5 V307.5 H43.5 V304.5 H47.5 V297.5 H57.5 V290.5 H59.5 V283.5 H92.5 V276.5 H221.5" fill="none" stroke="#bcbcbc" stroke-width="1.35"/>
<path d="M25.5 362.5 H26.5 V361.5 H28.5 V361.5 H28.5 V360.5 H28.5 V358.5 H29.5 V357.5 H29.5 V355.5 H29.5 V354.5 H29.5 V352.5 H29.5 V351.5 H29.5 V349.5 H30.5 V348.5 H30.5 V346.5 H30.5 V345.5 H30.5 V343.5 H30.5 V342.5 H31.5 V340.5 H31.5 V339.5 H31.5 V337.5 H31.5 V336.5 H31.5 V334.5 H32.5 V333.5 H32.5 V331.5 H32.5 V330.5 H32.5 V328.5 H32.5 V327.5 H33.5 V325.5 H33.5 V324.5 H33.5 V322.5 H33.5 V321.5 H34.5 V319.5 H34.5 V318.5 H34.5 V316.5 H35.5 V314.5 H35.5 V313.5 H35.5 V311.5 H35.5 V310.5 H36.5 V308.5 H36.5 V307.5 V307.5 H43.5 V304.5 H47.5 V297.5 H57.5 V290.5 H59.5 V283.5 H92.5 V276.5 H221.5" fill="none" stroke="#a4a4a4" stroke-width="1.35" stroke-dasharray="1 1.5"/>
<path d="M25.5 362.5 H26.5 V361.5 H27.5 V361.5 H28.5 V360.5 H28.5 V358.5 H28.5 V357.5 H28.5 V355.5 H28.5 V354.5 H29.5 V352.5 H29.5 V351.5 H29.5 V349.5 H29.5 V348.5 H29.5 V346.5 H29.5 V345.5 H30.5 V343.5 H30.5 V342.5 H30.5 V341.5 H30.5 V339.5 H30.5 V338.5 H30.5 V336.5 H31.5 V335.5 H31.5 V333.5 H31.5 V332.5 H31.5 V330.5 H31.5 V329.5 H32.5 V327.5 H32.5 V326.5 H32.5 V324.5 H33.5 V322.5 H33.5 V321.5 H33.5 V319.5 H33.5 V318.5 H34.5 V316.5 H34.5 V315.5 H34.5 V313.5 H35.5 V311.5 H35.5 V310.5 V306.5 H42.5 V295.5 H45.5 V272.5 H60.5 V261.5 H189.5" fill="none" stroke="#b4b4b4" stroke-width="1.35"/>
<path d="M25.5 362.5 H27.5 V361.5 H27.5 V360.5 H27.5 V358.5 H27.5 V357.5 H27.5 V355.5 H28.5 V354.5 H28.5 V352.5 H28.5 V351.5 H28.5 V349.5 H28.5 V348.5 H29.5 V346.5 H29.5 V345.5 H29.5 V343.5 H29.5 V342.5 H29.5 V341.5 H29.5 V339.5 H30.5 V338.5 H30.5 V336.5 H30.5 V335.5 H30.5 V333.5 H30.5 V332.5 H30.5 V330.5 H31.5 V329.5 H31.5 V327.5 H31.5 V326.5 H32.5 V324.5 H32.5 V323.5 H32.5 V321.5 H33.5 V320.5 V303.5 H35.5 V293.5 H38.5 V283.5 H40.5 V274.5 H48.5 V264.5 H120.5 V254.5 H130.5" fill="none" stroke="#bcbcbc" stroke-width="1.35"/>
<path d="M25.5 361.5 H26.5 V361.5 H27.5 V361.5 H28.5 V361.5 H30.5 V361.5 H31.5 V361.5 H31.5 V360.5 H32.5 V358.5 H32.5 V357.5 H32.5 V356.5 H33.5 V355.5 H33.5 V354.5 H34.5 V353.5 H35.5 V352.5 H36.5 V351.5 H38.5 V351.5 H39.5 V351.5 H40.5 V350.5 H41.5 V350.5 H43.5 V349.5 H44.5 V349.5 H46.5 V347.5 H47.5 V346.5 H49.5 V345.5 H50.5 V344.5 H52.5 V343.5 H53.5 V342.5 H54.5 V341.5 H56.5 V340.5 H57.5 V339.5 H58.5 V338.5 H60.5 V338.5 H61.5 V337.5 H63.5 V337.5 H64.5 V337.5 H65.5 V337.5 H66.5 V337.5 H67.5 V337.5 H68.5 V337.5 H69.5 V337.5 H70.5 V336.5 H72.5 V336.5 H73.5 V336.5 H74.5 V336.5 H75.5 V336.5 H76.5 V336.5 H77.5 V336.5 H79.5 V336.5 H80.5 V336.5 H81.5 V335.5 H82.5 V335.5 H83.5 V335.5 H85.5 V335.5 H86.5 V335.5 H87.5 V335.5 H88.5 V335.5 H89.5 V335.5 H91.5 V334.5 H92.5 V334.5 H93.5 V334.5 H94.5 V334.5 H96.5 V334.5 H97.5 V334.5 H98.5 V333.5 H100.5 V333.5 H101.5 V333.5 H102.5 V332.5 H103.5 V332.5 H104.5 V331.5 H106.5 V331.5 H107.5 V330.5 H128.5 V329.5 H162.5 V326.5 H189.5 V322.5 H209.5 V316.5 H224.5" fill="none" stroke="#7a7a7a" stroke-width="1.25"/>
<path d="M25.5 361.5 H26.5 V361.5 H27.5 V361.5 H28.5 V361.5 H30.5 V361.5 H31.5 V361.5 H31.5 V360.5 H32.5 V358.5 H32.5 V357.5 H32.5 V356.5 H33.5 V355.5 H33.5 V354.5 H34.5 V353.5 H35.5 V352.5 H36.5 V351.5 H38.5 V351.5 H39.5 V351.5 H40.5 V350.5 H41.5 V350.5 H43.5 V349.5 H44.5 V349.5 H46.5 V347.5 H47.5 V346.5 H49.5 V345.5 H50.5 V344.5 H52.5 V343.5 H53.5 V342.5 H54.5 V341.5 H56.5 V340.5 H57.5 V339.5 H58.5 V338.5 H60.5 V338.5 H61.5 V337.5 H63.5 V337.5 H64.5 V337.5 H65.5 V337.5 H66.5 V337.5 H67.5 V337.5 H68.5 V337.5 H69.5 V337.5 H70.5 V336.5 H72.5 V336.5 H73.5 V336.5 H74.5 V336.5 H75.5 V336.5 H76.5 V336.5 H77.5 V336.5 H79.5 V336.5 H80.5 V336.5 H81.5 V335.5 H82.5 V335.5 H83.5 V335.5 H85.5 V335.5 H86.5 V335.5 H87.5 V335.5 H88.5 V335.5 H89.5 V335.5 H91.5 V334.5 H92.5 V334.5 H93.5 V334.5 H94.5 V334.5 H96.5 V334.5 H97.5 V334.5 H98.5 V333.5 H100.5 V333.5 H101.5 V333.5 H102.5 V332.5 H103.5 V332.5 H104.5 V331.5 H106.5 V331.5 H107.5 V330.5" fill="none" stroke="#5e5e5e" stroke-width="1.25"/>
<path d="M290.5 362.5 H301.5 V342.5 H312.5 V335.5 H487.5" fill="none" stroke="#bdbdbd" stroke-width="1.35"/>
<path d="M290.5 362.5 H301.5 V342.5 H312.5 V335.5 H487.5" fill="none" stroke="#a5a5a5" stroke-width="1.35" stroke-dasharray="1 1.5"/>
<path d="M290.5 362.5 H303.5 V350.5 H320.5 V339.5 H455.5" fill="none" stroke="#aaaaaa" stroke-width="1.35"/>
<path d="M290.5 362.5 H301.5 V342.5 H305.5 V332.5 H312.5 V322.5 H397.5" fill="none" stroke="#bdbdbd" stroke-width="1.35"/>
<path d="M290.5 362.5 H291.5 V360.5 H292.5 V359.5 H293.5 V358.5 H294.5 V357.5 H296.5 V357.5 H297.5 V356.5 H298.5 V355.5 H299.5 V355.5 H300.5 V354.5 H301.5 V353.5 H303.5 V353.5 H304.5 V352.5 H305.5 V351.5 H306.5 V351.5 H307.5 V350.5 H309.5 V349.5 H310.5 V349.5 H311.5 V349.5 H312.5 V349.5 H314.5 V349.5 H315.5 V349.5 H316.5 V349.5 H317.5 V349.5 H319.5 V349.5 H320.5 V349.5 H321.5 V349.5 H322.5 V348.5 H323.5 V348.5 H324.5 V348.5 H326.5 V348.5 H327.5 V348.5 H328.5 V347.5 H329.5 V347.5 H330.5 V347.5 H331.5 V347.5 H332.5 V347.5 H334.5 V346.5 H335.5 V346.5 H336.5 V346.5 H337.5 V346.5 H338.5 V346.5 H339.5 V346.5 H341.5 V346.5 H342.5 V346.5 H343.5 V346.5 H344.5 V346.5 H345.5 V345.5 H346.5 V345.5 H348.5 V345.5 H349.5 V345.5 H350.5 V345.5 H352.5 V345.5 H384.5 V344.5 H420.5 V342.5 H431.5 V340.5 H435.5 V338.5 H466.5 V332.5 H491.5" fill="none" stroke="#7a7a7a" stroke-width="1.25"/>
<path d="M290.5 362.5 H291.5 V360.5 H292.5 V359.5 H293.5 V358.5 H294.5 V357.5 H296.5 V357.5 H297.5 V356.5 H298.5 V355.5 H299.5 V355.5 H300.5 V354.5 H301.5 V353.5 H303.5 V353.5 H304.5 V352.5 H305.5 V351.5 H306.5 V351.5 H307.5 V350.5 H309.5 V349.5 H310.5 V349.5 H311.5 V349.5 H312.5 V349.5 H314.5 V349.5 H315.5 V349.5 H316.5 V349.5 H317.5 V349.5 H319.5 V349.5 H320.5 V349.5 H321.5 V349.5 H322.5 V348.5 H323.5 V348.5 H324.5 V348.5 H326.5 V348.5 H327.5 V348.5 H328.5 V347.5 H329.5 V347.5 H330.5 V347.5 H331.5 V347.5 H332.5 V347.5 H334.5 V346.5 H335.5 V346.5 H336.5 V346.5 H337.5 V346.5 H338.5 V346.5 H339.5 V346.5 H341.5 V346.5 H342.5 V346.5 H343.5 V346.5 H344.5 V346.5 H345.5 V345.5 H346.5 V345.5 H348.5 V345.5 H349.5 V345.5 H350.5 V345.5 H352.5 V345.5" fill="none" stroke="#5e5e5e" stroke-width="1.25"/>
</g></svg>
</body></html>
